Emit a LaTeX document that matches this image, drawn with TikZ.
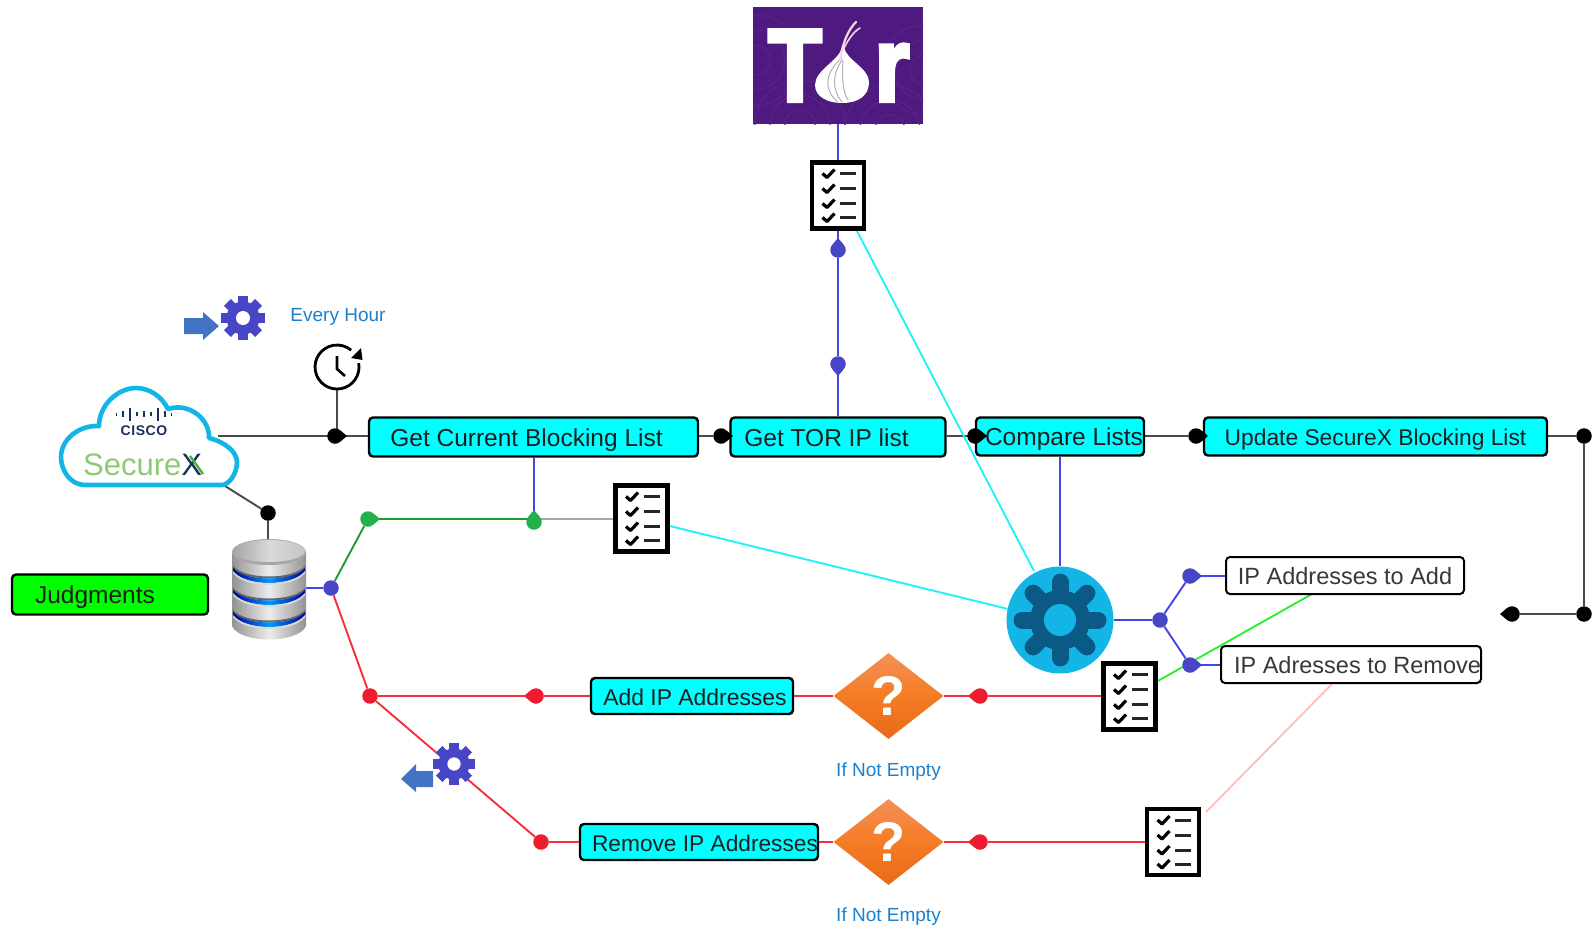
\documentclass[tikz,border=0pt]{standalone}
\usepackage{fontspec}
\setmainfont{Liberation Sans}
\usetikzlibrary{shapes.geometric,backgrounds}
\definecolor{cyanbox}{HTML}{00FFFF}
\definecolor{cyanline}{HTML}{22F2F8}
\definecolor{blueline}{HTML}{4444E8}
\definecolor{bluedot}{HTML}{4646C6}
\definecolor{redline}{HTML}{F4303C}
\definecolor{reddot}{HTML}{EE1C2E}
\definecolor{greenline}{HTML}{1F9A32}
\definecolor{greendot}{HTML}{22B14C}
\definecolor{limeline}{HTML}{2CF02C}
\definecolor{labelblue}{HTML}{1C80CC}
\definecolor{graphline}{HTML}{4A4A4A}
\definecolor{navy}{HTML}{1B2F5E}
\definecolor{cloudblue}{HTML}{12B5E6}
\definecolor{geardark}{HTML}{0B5A85}
\definecolor{securegreen}{HTML}{8CCB72}
\definecolor{arrowblue}{HTML}{4472C4}
\definecolor{torpurple}{HTML}{4F1A80}
\definecolor{torring}{HTML}{562388}
\definecolor{asktop}{HTML}{F49058}
\definecolor{askmid}{HTML}{F47C24}
\definecolor{askbot}{HTML}{E96A1A}
\newcommand\shifted[2]{\makebox[0pt]{\hspace{#1pt}#2}}
\newcommand\tdot[5]{%
  \node[dotnode,fill=#4] (#1) at (#2,#3) {};
  \fill[#4,shift={(#2,#3)},rotate=#5] (5.5,-5.5) -- (12,0) -- (5.5,5.5) -- cycle;}
\tikzset{
  x=1pt,y=-1pt,
  dotnode/.style={circle,inner sep=0,minimum size=15.5pt},
  flowbox/.style={draw=black,line width=2.4pt,rounded corners=4pt,fill=cyanbox,inner sep=0,
    text height=24pt,text depth=6pt,text=black!88,font=\fontsize{24.5}{28}\selectfont},
  whitebox/.style={flowbox,fill=white,line width=2pt,text height=22pt,text depth=5pt,text=black!78,font=\fontsize{23.5}{28}\selectfont},
  checknode/.style={draw=black,fill=white,line width=4.5pt,inner sep=0,minimum width=52pt,minimum height=66pt},
  askdiamond/.style={diamond,shape aspect=1.28,inner sep=0,minimum width=110pt,minimum height=86pt,
    top color=asktop,bottom color=askbot,middle color=askmid,text=white,
    font=\fontsize{56}{56}\bfseries\selectfont},
  note/.style={text=labelblue,font=\fontsize{19}{22}\selectfont,inner sep=0},
  wire/.style={line width=1.9pt},
  blackwire/.style={wire,draw=graphline},
  bluewire/.style={wire,draw=blueline},
  redwire/.style={wire,draw=redline},
  greenwire/.style={wire,draw=greenline},
  cyanwire/.style={wire,draw=cyanline},
  checkmarks/.pic={
    \foreach \r in {-22,-7,8,22}{
      \draw[line width=3.2pt,black,line join=round] (-15.5,\r) -- (-11,\r+4) -- (-3.5,\r-4);
      \draw[line width=3pt,black!85] (2,\r) -- (18,\r);
    }},
  cloggear/.pic={
    \foreach \a in {0,45,...,315}{
      \fill[bluedot,rotate=\a] (-4.8,0) rectangle (4.8,-22);
    }
    \fill[bluedot] (0,0) circle (16.5);
    \fill[white] (0,0) circle (7);
  },
  biggear/.pic={
    \fill[cloudblue] (0,0) circle (53.5);
    \foreach \a in {0,45,...,315}{
      \draw[line width=17pt,line cap=round,draw=geardark,rotate=\a] (0,0) -- (38,0);
    }
    \fill[geardark] (0,0) circle (30);
    \fill[cloudblue] (0,0) circle (16);
  },
}
\begin{document}
\begin{tikzpicture}
\useasboundingbox (0,0) rectangle (1595,926);
% Tor logo
\node[fill=torpurple,minimum width=170pt,minimum height=117pt,inner sep=0] (tor) at (838,65.5) {};
\begin{scope}
\clip (753,7) rectangle (923,124);
\foreach \c/\d in {755/60,925/70,800/125,890/130}{
  \foreach \r in {15,30,45}{
    \draw[line width=1.2pt,torring] (\c,\d) circle (\r);
  }}
\end{scope}
\node[text=white,font=\fontsize{103}{104}\bfseries\addfontfeature{FakeBold=4}\selectfont,inner sep=0,anchor=base,xscale=.85] (torT) at (795,101) {T};
\node[text=white,font=\fontsize{105}{106}\bfseries\addfontfeature{FakeBold=4}\selectfont,inner sep=0,anchor=base,xscale=.85] (torR) at (892,101) {r};
\fill[white] (842,47) .. controls (840,60) and (815,70) .. (815,85) .. controls (815,97) and (828,103) .. (842,103) .. controls (858,103) and (869,96) .. (869,82) .. controls (869,68) and (846,60) .. (844,47) -- cycle;
\draw[gray!60,line width=1pt] (842,58) .. controls (825,72) and (823,90) .. (838,102);
\draw[gray!60,line width=1pt] (842,60) .. controls (832,75) and (832,90) .. (842,102);
\draw[gray!60,line width=1pt] (843,60) .. controls (842,75) and (842,90) .. (848,100);
\draw[white!85!purple,line width=2.2pt,line cap=round] (840,60) .. controls (843,42) and (848,30) .. (856,22);
\draw[white!85!purple,line width=1.6pt,line cap=round] (843,50) .. controls (848,40) and (853,32) .. (860,28);
% checklists
\node[checknode] (listtop) at (838,195.5) {};
\pic at (838,195.5) {checkmarks};
\node[checknode] (listgreen) at (641.5,518.5) {};
\pic at (641.5,518.5) {checkmarks};
\node[checknode] (listadd) at (1129.5,696.5) {};
\pic at (1129.5,696.5) {checkmarks};
\node[checknode] (listrem) at (1173,842) {};
\pic at (1173,842) {checkmarks};
% flow boxes
\node[flowbox,minimum width=329pt,minimum height=39pt] (getlist) at (533.5,437) {\shifted{-14}{Get Current Blocking List}};
\node[flowbox,minimum width=215pt,minimum height=39pt] (gettor) at (838,437) {\shifted{-23}{Get TOR IP list}};
\node[flowbox,minimum width=168pt,minimum height=38pt] (compare) at (1060,436.5) {\shifted{8}{Compare Lists}};
\node[flowbox,minimum width=343pt,minimum height=38pt,font=\fontsize{22.8}{28}\selectfont] (update) at (1375.5,436.5) {\shifted{0}{Update SecureX Blocking List}};
\node[flowbox,minimum width=202pt,minimum height=36pt,font=\fontsize{22.9}{28}\selectfont] (addip) at (692,696) {\shifted{6}{Add IP Addresses}};
\node[flowbox,minimum width=238pt,minimum height=36pt,font=\fontsize{22.7}{28}\selectfont] (remip) at (699,842) {\shifted{12}{Remove IP Addresses}};
\node[flowbox,fill=green,minimum width=196pt,minimum height=40pt] (judg) at (110,594.5) {\shifted{-30}{Judgments}};
\node[whitebox,minimum width=238pt,minimum height=37pt] (toadd) at (1345,575.5) {\shifted{0}{IP Addresses to Add}};
\node[whitebox,minimum width=260pt,minimum height=37pt] (torem) at (1351,664.5) {\shifted{13}{IP Adresses to Remove}};
% diamonds
\node[askdiamond] (askadd) at (888.5,696) {?};
\node[askdiamond] (askrem) at (888.5,842) {?};
\node[note] (noteadd) at (888.5,772) {If Not Empty};
\node[note] (noterem) at (888.5,917) {If Not Empty};
\node[note] (noteh) at (338,317) {Every Hour};
% big gear
\node[circle,minimum size=107pt,inner sep=0] (engine) at (1060,620) {};
\pic at (1060,620) {biggear};
% small gears and arrows
\fill[arrowblue] (184,318) -- (203,318) -- (203,312) -- (219,326) -- (203,340) -- (203,334) -- (184,334) -- cycle;
\node[circle,minimum size=44pt,inner sep=0] (gearin) at (243,318) {};
\pic at (243,318) {cloggear};
\fill[arrowblue] (433,771) -- (416,771) -- (416,764) -- (401,779) -- (416,792) -- (416,787) -- (433,787) -- cycle;
\node[circle,minimum size=42pt,inner sep=0] (gearout) at (454,764) {};
\pic[scale=.95] at (454,764) {cloggear};
% clock
\node[circle,minimum size=44pt,inner sep=0] (clock) at (337,367) {};
\draw[line width=2.8pt,black] (clock.center) ++(21.7,-3.8) arc[start angle=-10,end angle=310,radius=22];
\fill[black] (351,358) -- (362.5,360) -- (361,348) -- cycle;
\draw[line width=2.6pt,black] (337,356) -- (337,369) -- (345,376);
% cloud
\fill[white] (85,485) .. controls (70,485) and (61,470) .. (61,457) .. controls (61,440) and (78,425) .. (99,426) .. controls (99,405) and (118,388) .. (136,388) .. controls (150,388) and (162,397) .. (168,409) .. controls (190,402) and (210,420) .. (209,438) .. controls (225,442) and (237,452) .. (237,462) .. controls (237,475) and (228,485) .. (222,485) -- cycle;
\draw[cloudblue,line width=4.6pt,line join=round] (85,485) .. controls (70,485) and (61,470) .. (61,457) .. controls (61,440) and (78,425) .. (99,426) .. controls (99,405) and (118,388) .. (136,388) .. controls (150,388) and (162,397) .. (168,409) .. controls (190,402) and (210,420) .. (209,438) .. controls (225,442) and (237,452) .. (237,462) .. controls (237,475) and (228,485) .. (222,485) -- cycle;
\foreach \x/\h in {116.5/1.5,123/3,130/6.5,137/2,144/3,151/2,158/6.5,165/3,171.5/1.5}{
  \draw[navy,line width=1.8pt] (\x,414-\h) -- (\x,414+\h);
}
\node[text=navy,font=\fontsize{14}{16}\bfseries\addfontfeature{LetterSpace=4}\selectfont,inner sep=0] (ciscotext) at (144,431) {CISCO};
\node[text=securegreen,font=\fontsize{31}{34}\selectfont,inner sep=0,anchor=base west] (sxtext) at (83,475) {Secure\textcolor{navy}{X}};
\draw[securegreen!70!green!80!black,line width=2.4pt] (190,456) -- (203,474);
\coordinate (cloudr) at (218,436);
\coordinate (clouds) at (225,486);
% database
\node[minimum width=74pt,minimum height=101pt,inner sep=0] (db) at (268,589.5) {};
\shade[left color=gray!85,right color=gray!85,middle color=gray!15] (232,552) -- (232,626) .. controls (240,644) and (298,644) .. (306,626) -- (306,552) -- cycle;
\foreach \y in {568,590,612}{
  \fill[black!60] (233,\y-2) .. controls (245,\y+12) and (293,\y+12) .. (305,\y-2) -- (305,\y) .. controls (293,\y+14) and (245,\y+14) .. (233,\y) -- cycle;
  \shade[left color=blue!60!black,right color=blue!60!black,middle color=cyan!60!blue] (233,\y) .. controls (245,\y+14) and (293,\y+14) .. (305,\y) -- (305,\y+3) .. controls (293,\y+19) and (245,\y+19) .. (233,\y+3) -- cycle;
  \fill[white!70!gray] (233,\y+3) .. controls (245,\y+19) and (293,\y+19) .. (305,\y+3) -- (305,\y+5) .. controls (293,\y+21) and (245,\y+21) .. (233,\y+5) -- cycle;
}
\fill[gray!70] (269,552) ellipse (37 and 13);
\shade[left color=gray!70,right color=gray!45,middle color=gray!30] (269,551) ellipse (36 and 11);
% dots
\tdot{dothour}{335}{436}{black}{0}
\tdot{dotget}{721}{436}{black}{0}
\tdot{dotcmp}{975}{436}{black}{0}
\tdot{dotupd}{1196}{436}{black}{0}
\node[dotnode,fill=black] (dotright) at (1584,436) {};
\node[dotnode,fill=black] (dotturn) at (1584,614) {};
\tdot{dotend}{1512}{614}{black}{180}
\node[dotnode,fill=black] (dotdb) at (268,513) {};
\node[dotnode,fill=bluedot] (dothub) at (331,588) {};
\tdot{dotgreen}{368}{519}{greendot}{0}
\tdot{dotgreenb}{534}{522}{greendot}{90}
\tdot{dottora}{838}{250}{bluedot}{90}
\tdot{dottorb}{838}{364}{bluedot}{-90}
\node[dotnode,fill=bluedot] (dotsplit) at (1160,620) {};
\tdot{dotadd}{1190}{576}{bluedot}{0}
\tdot{dotrem}{1190}{665}{bluedot}{0}
\node[dotnode,fill=reddot] (dotfork) at (370,696) {};
\tdot{dotaddl}{536}{696}{reddot}{180}
\tdot{dotaddr}{980}{696}{reddot}{180}
\node[dotnode,fill=reddot] (dotreml) at (541,842) {};
\tdot{dotremr}{980}{842}{reddot}{180}
% connectors
\coordinate (cyanfrom) at (857,231);
\coordinate (cyanto) at (1034,571);
\coordinate (greenjoin) at (534,519);
\begin{scope}[on background layer]
\draw[blackwire] (cloudr) -- (dothour.center) -- (dothour -| getlist.west);
\draw[blackwire] (clock.south) -- (clock.south |- dothour);
\draw[blackwire] (getlist.east |- dotget) -- (dotget) -- (dotget -| gettor.west);
\draw[blackwire] (gettor.east |- dotcmp) -- (dotcmp) -- (dotcmp -| compare.west);
\draw[blackwire] (compare.east |- dotupd) -- (dotupd) -- (dotupd -| update.west);
\draw[blackwire] (update.east |- dotright) -- (dotright) -- (dotturn) -- (dotend);
\draw[blackwire] (clouds) -- (dotdb) -- (db.north);
\draw[bluewire] (tor.south) -- (listtop.north);
\draw[bluewire] (listtop.south) -- (dottora) -- (dottorb) -- (gettor.north);
\draw[cyanwire] (cyanfrom) -- (cyanto);
\draw[bluewire] (compare.south) -- (engine.north);
\draw[bluewire] (db.east |- dothub) -- (dothub);
\draw[greenwire] (dothub) -- (dotgreen);
\draw[greenwire] (dotgreen.center) -- (greenjoin);
\draw[bluewire] (getlist.south -| dotgreenb) -- (dotgreenb);
\draw[wire,gray!70] (greenjoin) -- (listgreen.west |- greenjoin);
\draw[cyanwire] (listgreen.east |- 0,526) -- (engine.180-12);
\draw[redwire] (dothub) -- (dotfork) -- (dotaddl) -- (addip.west);
\draw[redwire] (addip.east) -- (askadd.west);
\draw[redwire] (askadd.east) -- (dotaddr) -- (listadd.west |- dotaddr);
\draw[redwire] (dotfork) -- (dotreml) -- (remip.west);
\draw[redwire] (remip.east) -- (askrem.west);
\draw[redwire] (askrem.east) -- (dotremr) -- (listrem.west);
\draw[bluewire] (engine.east) -- (dotsplit);
\draw[bluewire] (dotsplit) -- (dotadd) -- (toadd.west |- dotadd);
\draw[bluewire] (dotsplit) -- (dotrem) -- (torem.west |- dotrem);
\draw[wire,draw=limeline] (listadd.east |- 0,681) -- (1312,594);
\draw[wire,draw=pink] (1206,812) -- (1332,684);
\end{scope}
\end{tikzpicture}
\end{document}
